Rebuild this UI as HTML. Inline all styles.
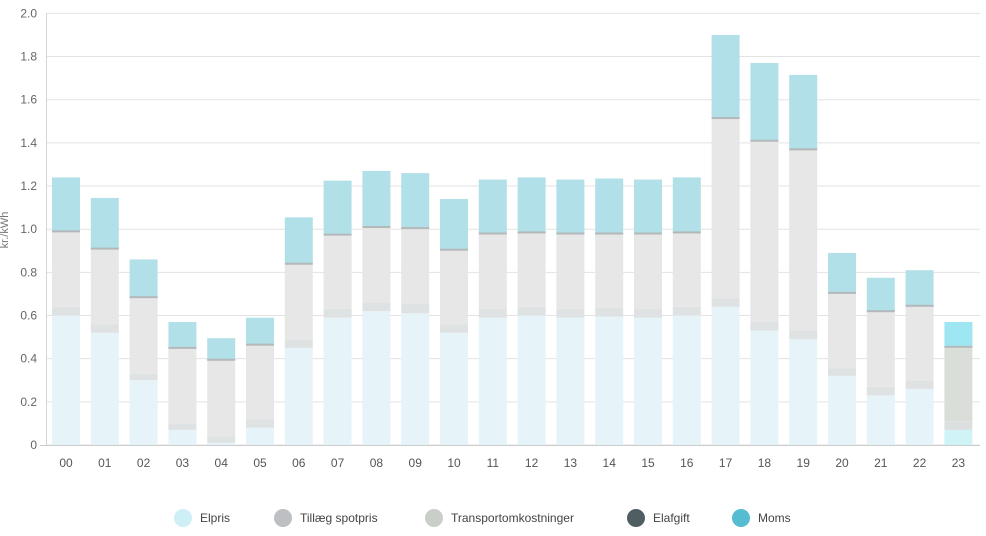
<!DOCTYPE html>
<html><head><meta charset="utf-8"><style>
html,body{margin:0;padding:0;background:#fff;}
svg{display:block;font-family:"Liberation Sans",sans-serif;}
</style></head><body>
<svg id="s" width="986" height="536" xmlns="http://www.w3.org/2000/svg"></svg>
<script>
var d=[[0.60,0.64,0.99,1.24],[0.52,0.56,0.91,1.145],[0.30,0.33,0.685,0.86],[0.07,0.10,0.45,0.57],[0.01,0.04,0.395,0.495],[0.08,0.12,0.465,0.59],[0.45,0.49,0.84,1.055],[0.59,0.63,0.975,1.225],[0.62,0.66,1.01,1.27],[0.61,0.655,1.005,1.26],[0.52,0.56,0.905,1.14],[0.59,0.63,0.98,1.23],[0.60,0.64,0.985,1.24],[0.59,0.63,0.98,1.23],[0.595,0.635,0.98,1.235],[0.59,0.63,0.98,1.23],[0.60,0.64,0.985,1.24],[0.64,0.68,1.515,1.90],[0.53,0.57,1.41,1.77],[0.49,0.53,1.37,1.715],[0.32,0.355,0.705,0.89],[0.23,0.27,0.62,0.775],[0.26,0.30,0.645,0.81],[0.07,0.11,0.455,0.57]];
var Y=function(v){return 445-v*215.8;};
var h='';
for(var i=0;i<=10;i++){var v=i*0.2,y=Y(v);h+='<line x1="46" x2="980" y1="'+y+'" y2="'+y+'" stroke="#e3e3e3" stroke-width="1"/>';
h+='<text x="37" y="'+(y+4)+'" font-size="12" fill="#666" text-anchor="end">'+(i==0?'0':v.toFixed(1))+'</text>';}
h+='<line x1="46.5" x2="46.5" y1="13" y2="446" stroke="#d5d5d5"/>';
h+='<line x1="40" x2="980" y1="445.5" y2="445.5" stroke="#ccc"/>';
h+='<text transform="translate(8,230) rotate(-90)" font-size="11" fill="#777" text-anchor="middle">kr./kWh</text>';
for(var i=0;i<24;i++){var x=52+i*38.8,b=d[i],hl=i==23;
var c=hl?['#d0f3f8','#dcdfe0','#d9ded9','#9ee6f2']:['#e6f4f9','#dfe2e3','#e6e7e6','#b2e0e8'];
function r(a,bb,col){h+='<rect x="'+x+'" y="'+Y(bb)+'" width="28" height="'+(Y(a)-Y(bb))+'" fill="'+col+'"/>';}
r(0,b[0],c[0]);r(b[0],b[1],c[1]);r(b[1],b[2],c[2]);r(b[2],b[3],c[3]);
h+='<rect x="'+x+'" y="'+(Y(b[2])-1)+'" width="28" height="2" fill="#b3b8ba"/>';
h+='<text x="'+(x+14)+'" y="467" font-size="12" fill="#555" text-anchor="middle">'+(i<10?'0'+i:i)+'</text>';}
var L=[[183,'Elpris','#cdeff5'],[283,'Tillæg spotpris','#bcc0c2'],[434,'Transportomkostninger','#c9cec9'],[636,'Elafgift','#4f5e62'],[741,'Moms','#55bcd2']];
L.forEach(function(l){h+='<circle cx="'+l[0]+'" cy="518" r="9" fill="'+l[2]+'"/><text x="'+(l[0]+17)+'" y="522" font-size="12" fill="#444">'+l[1]+'</text>';});
document.getElementById('s').innerHTML=h;
</script>
</body></html>
